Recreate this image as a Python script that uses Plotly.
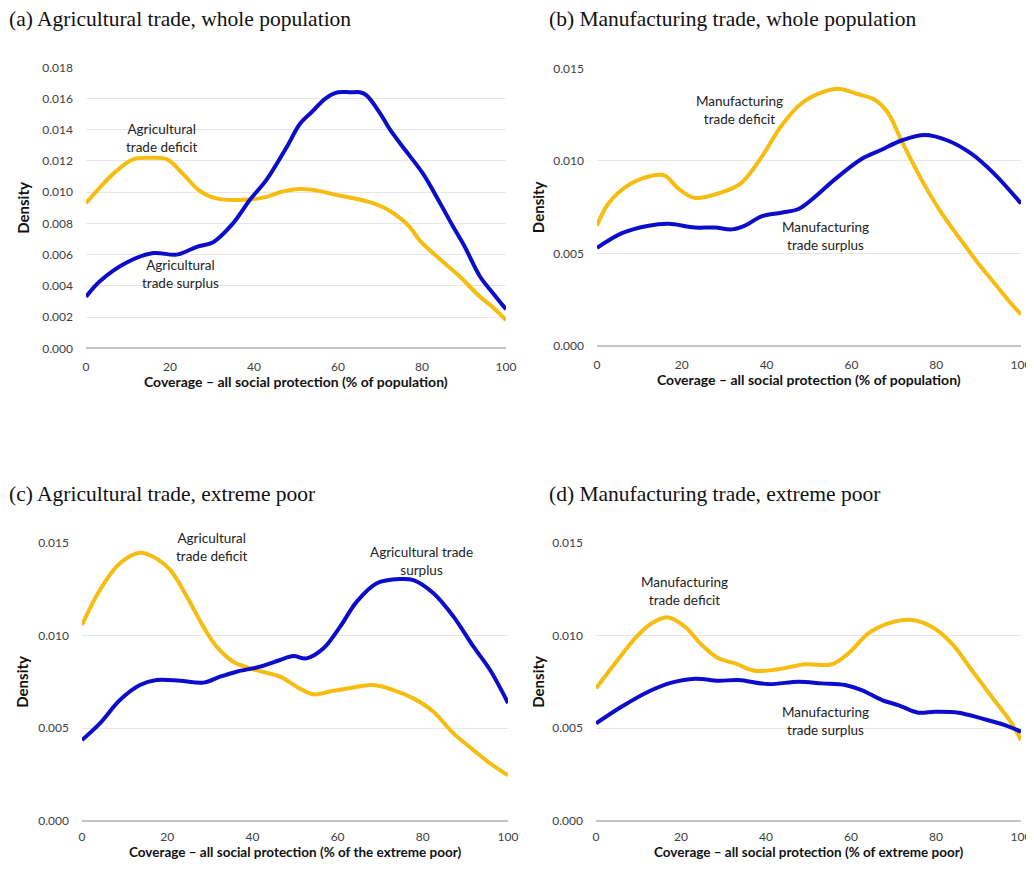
import plotly.graph_objects as go

# ---------------- data ----------------
# (a) Agricultural trade, whole population
a_surplus_x = [0, 3.3, 9.7, 16, 21.6, 26.4, 30.3, 35, 39, 43, 47.8, 51, 54, 57, 60, 63, 65.2, 66.8, 69.9, 72.4, 76, 80.2, 84.3, 87.4, 90, 93.8, 97, 100]
a_surplus_y = [0.0033, 0.0043, 0.0055, 0.0061, 0.0060, 0.0065, 0.0068, 0.0080, 0.0095, 0.0108, 0.0129, 0.0144, 0.0152, 0.0160, 0.0164, 0.0164, 0.0164, 0.0162, 0.0151, 0.0140, 0.0127, 0.0112, 0.0093, 0.0078, 0.0066, 0.0046, 0.0035, 0.0025]
a_deficit_x = [0, 3.3, 7, 11.2, 15.2, 19.3, 23, 27, 31, 36.7, 43, 46.2, 51, 55, 60, 64, 68.3, 71, 74, 77, 79.5, 84.3, 89, 93.8, 97, 100]
a_deficit_y = [0.0093, 0.0103, 0.0113, 0.0121, 0.0122, 0.0121, 0.0112, 0.0101, 0.0096, 0.0095, 0.0097, 0.0100, 0.0102, 0.0101, 0.0098, 0.0096, 0.0093, 0.0090, 0.0085, 0.0078, 0.0069, 0.0057, 0.0046, 0.0033, 0.0026, 0.0018]

# (b) Manufacturing trade, whole population
b_surplus_x = [0, 5.9, 12.2, 16.9, 23.1, 27.8, 31.8, 34.9, 38.8, 43.5, 47.5, 50.6, 56.1, 62.4, 67.1, 71.8, 77.3, 82.7, 88.2, 93.7, 100]
b_surplus_y = [0.0053, 0.0061, 0.0065, 0.0066, 0.0064, 0.0064, 0.0063, 0.0065, 0.0070, 0.0072, 0.0074, 0.0079, 0.0090, 0.0101, 0.0106, 0.0111, 0.0114, 0.0111, 0.0104, 0.0093, 0.0077]
b_deficit_x = [0, 2.7, 7.5, 12.9, 16, 19.2, 23, 29.4, 34, 38.8, 43.5, 48.2, 53, 56.9, 61.6, 65.5, 68.6, 71.8, 76.5, 81.2, 85.9, 89.8, 93.7, 96.9, 100]
b_deficit_y = [0.0065, 0.0077, 0.0087, 0.0092, 0.0092, 0.0085, 0.0080, 0.0083, 0.0088, 0.0102, 0.0119, 0.0131, 0.0137, 0.0139, 0.0136, 0.0133, 0.0126, 0.0111, 0.0090, 0.0072, 0.0057, 0.0045, 0.0034, 0.0025, 0.0017]

# (c) Agricultural trade, extreme poor
c_surplus_x = [0, 4.2, 8.9, 13.6, 17.5, 23, 28.5, 32.4, 36.3, 41.8, 46.5, 49.6, 52.7, 56.7, 60.6, 64.5, 69.2, 74.6, 77.8, 82.5, 87.2, 91.9, 95.8, 100]
c_surplus_y = [0.00435, 0.00525, 0.00651, 0.00732, 0.00759, 0.00755, 0.00745, 0.00777, 0.00804, 0.00831, 0.00867, 0.00888, 0.00876, 0.00930, 0.01047, 0.01182, 0.01281, 0.01304, 0.01298, 0.01227, 0.01101, 0.00939, 0.00813, 0.00635]
c_deficit_x = [0, 4.2, 8.9, 13.6, 16.7, 20.7, 24.6, 28.5, 31.6, 35.5, 40.2, 46.5, 50.4, 54.3, 59, 63.7, 68.4, 73.1, 77.8, 82.5, 87.2, 91.9, 95.8, 100]
c_deficit_y = [0.01056, 0.01245, 0.01389, 0.01446, 0.01424, 0.01353, 0.01209, 0.01047, 0.00939, 0.00858, 0.00817, 0.00777, 0.00723, 0.00682, 0.00701, 0.00719, 0.00732, 0.00705, 0.00660, 0.00588, 0.00471, 0.00381, 0.00309, 0.00245]

# (d) Manufacturing trade, extreme poor
d_surplus_x = [0, 6, 12.3, 17.8, 23.3, 28.8, 33.5, 40.5, 47.6, 53.1, 58.6, 62.5, 67.3, 71.1, 75.8, 79.8, 85.3, 90.7, 96.2, 100]
d_surplus_y = [0.00525, 0.00615, 0.00696, 0.00745, 0.00766, 0.00755, 0.00759, 0.00737, 0.00750, 0.00741, 0.00732, 0.00705, 0.00651, 0.00624, 0.00583, 0.00588, 0.00583, 0.00552, 0.00516, 0.00480]
d_deficit_x = [0, 4.5, 9.2, 13.1, 17, 20.9, 24.9, 28.8, 32.7, 37.4, 42.9, 49.2, 55.5, 59.4, 64.1, 68.8, 74.3, 79, 83.7, 88.4, 93.1, 97.8, 100]
d_deficit_y = [0.00714, 0.00849, 0.00984, 0.01065, 0.01097, 0.01047, 0.00948, 0.00876, 0.00849, 0.00809, 0.00817, 0.00844, 0.00844, 0.00903, 0.01011, 0.01065, 0.01083, 0.01047, 0.00957, 0.00813, 0.00669, 0.00525, 0.00435]

panel_titles = ["(a) Agricultural trade, whole population",
                "(b) Manufacturing trade, whole population",
                "(c) Agricultural trade, extreme poor",
                "(d) Manufacturing trade, extreme poor"]
x_titles = ["Coverage \u2013 all social protection (% of population)",
            "Coverage \u2013 all social protection (% of population)",
            "Coverage \u2013 all social protection (% of the extreme poor)",
            "Coverage \u2013 all social protection (% of extreme poor)"]
y_title = "Density"
x_ticks = [0, 20, 40, 60, 80, 100]

# labels: (text, x, y)
labels = [
    [("Agricultural<br>trade deficit", 18, 0.01347), ("Agricultural<br>trade surplus", 22.4, 0.00476)],
    [("Manufacturing<br>trade deficit", 33.7, 0.01276), ("Manufacturing<br>trade surplus", 54, 0.00595)],
    [("Agricultural<br>trade deficit", 30.5, 0.01477), ("Agricultural trade<br>surplus", 79.8, 0.01402)],
    [("Manufacturing<br>trade deficit", 20.9, 0.01239), ("Manufacturing<br>trade surplus", 54.1, 0.0054)],
]

series = [
    (a_surplus_x, a_surplus_y, a_deficit_x, a_deficit_y),
    (b_surplus_x, b_surplus_y, b_deficit_x, b_deficit_y),
    (c_surplus_x, c_surplus_y, c_deficit_x, c_deficit_y),
    (d_surplus_x, d_surplus_y, d_deficit_x, d_deficit_y),
]

# ---------------- styling / layout ----------------
OFF = 8                      # page body margin
W, H = 1034 - OFF, 869 - 2 * OFF
BLUE = "#0C0CCC"
GOLD = "#F7BC10"
SANS = "Lato, Open Sans, sans-serif"
TICKFONT = dict(family=SANS, size=12, color="#404040")
LABELFONT = dict(family=SANS, size=13.5, color="#222222")
YTITLEFONT = dict(family=SANS, size=15, color="#111111", weight="bold")
TITLEFONT = dict(family="Liberation Serif, Times New Roman, serif", size=21.5, color="#111111")

# reference-pixel boxes: (x0, x100, y_top, y_zero)
boxes = [(86, 506, 67.3, 348.3), (597, 1021, 68.3, 346),
         (82, 508, 542.7, 820.7), (596, 1021, 542.7, 820.7)]
ytitle_gap = [63, 59, 60, 58]
xtitle_gap = [33, 33, 31, 31]
xtitle_size = [14, 14, 13.5, 13.5]
xtick_standoff = [10, 10, 7, 7]
yranges = [[0, 0.018], [0, 0.015], [0, 0.015], [0, 0.015]]
ydticks = [0.002, 0.005, 0.005, 0.005]
title_pos = [(8, 6), (548, 6), (8, 481), (548, 481)]


def px(X):
    return (X - OFF) / W


def py(Y):
    return 1 - (Y - OFF) / H


fig = go.Figure()
annotations = []
layout = dict(width=W, height=H, margin=dict(l=0, r=0, t=0, b=0, autoexpand=False),
              paper_bgcolor="white", plot_bgcolor="white", showlegend=False)

for i in range(4):
    n = "" if i == 0 else str(i + 1)
    xa, ya = "x" + n, "y" + n
    sx, sy, dx, dy = series[i]
    fig.add_trace(go.Scatter(x=dx, y=dy, mode="lines", xaxis=xa, yaxis=ya,
                             line=dict(color=GOLD, width=4, shape="spline", smoothing=1.0),
                             name="deficit", hoverinfo="skip"))
    fig.add_trace(go.Scatter(x=sx, y=sy, mode="lines", xaxis=xa, yaxis=ya,
                             line=dict(color=BLUE, width=4, shape="spline", smoothing=1.0),
                             name="surplus", hoverinfo="skip"))
    x0, x1, yt, yz = boxes[i]
    layout["xaxis" + n] = dict(domain=[px(x0), px(x1)], range=[0, 100], anchor=ya,
                               tickvals=x_ticks, showgrid=False, zeroline=False,
                               showline=False, tickfont=TICKFONT, ticks="",
                               ticklabelstandoff=xtick_standoff[i], ticklabeloverflow="allow",
                               automargin=False, fixedrange=True)
    layout["yaxis" + n] = dict(domain=[py(yz), py(yt)], range=yranges[i], anchor=xa,
                               dtick=ydticks[i], tick0=0, tickformat=".3f",
                               showgrid=True, gridcolor="#E6E6E6", gridwidth=1,
                               zeroline=True, zerolinecolor="#C4C4C4", zerolinewidth=2,
                               showline=False, tickfont=TICKFONT, ticks="",
                               ticklabelstandoff=12, ticklabeloverflow="allow",
                               automargin=False, fixedrange=True)
    # panel title
    tx, ty = title_pos[i]
    annotations.append(dict(text=panel_titles[i], xref="paper", yref="paper",
                            x=px(tx), y=py(ty), xanchor="left", yanchor="top",
                            showarrow=False, font=TITLEFONT, borderpad=0))
    # axis titles
    annotations.append(dict(text=x_titles[i], xref="paper", yref="paper",
                            x=px((x0 + x1) / 2), y=py(yz + xtitle_gap[i]),
                            xanchor="center", yanchor="middle", showarrow=False,
                            font=dict(family=SANS, size=xtitle_size[i], color="#111111",
                                      weight="bold"),
                            borderpad=0))
    annotations.append(dict(text=y_title, xref="paper", yref="paper",
                            x=px(x0 - ytitle_gap[i]), y=py((yt + yz) / 2), textangle=-90,
                            xanchor="center", yanchor="middle", showarrow=False,
                            font=YTITLEFONT))
    for (t, lx, ly) in labels[i]:
        annotations.append(dict(text=t, xref=xa, yref=ya, x=lx, y=ly,
                                xanchor="center", yanchor="middle", showarrow=False,
                                font=LABELFONT))

layout["annotations"] = annotations
fig.update_layout(**layout)
fig.write_html("out.html")
